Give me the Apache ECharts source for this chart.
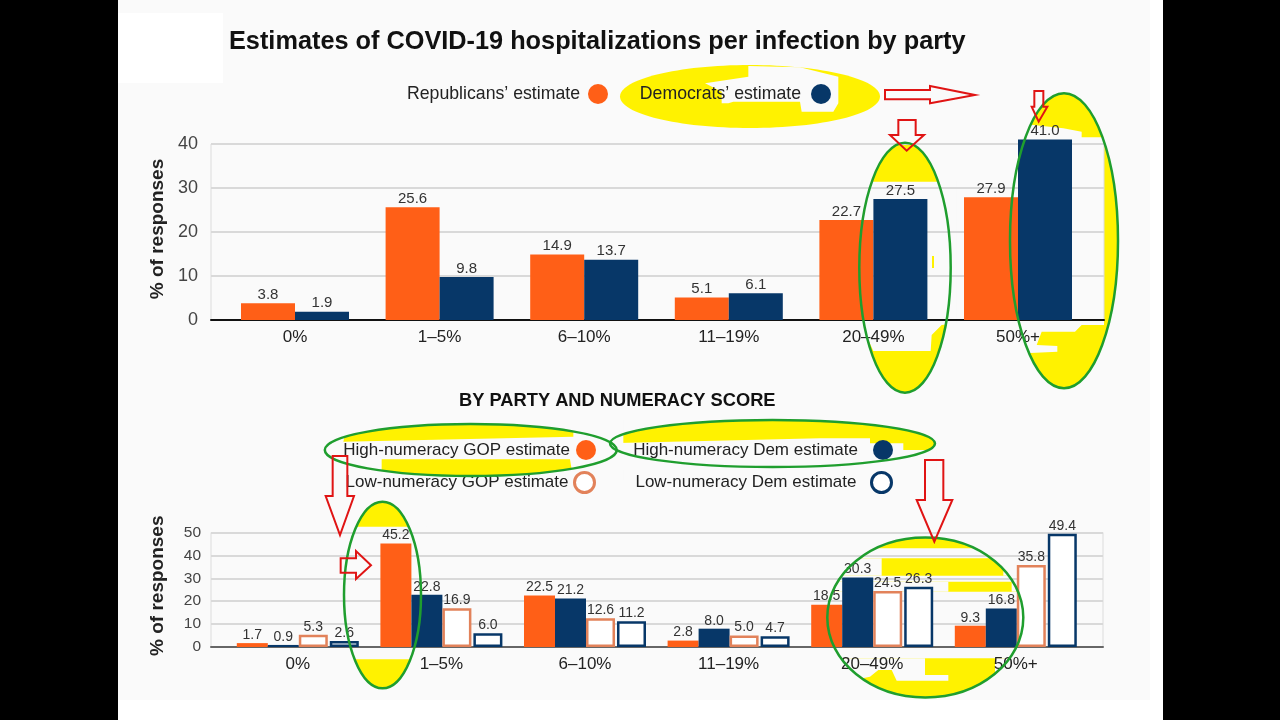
<!DOCTYPE html>
<html>
<head>
<meta charset="utf-8">
<style>html,body{margin:0;padding:0;background:#000}#main{width:1280px;height:720px}</style>
<script src="https://cdn.jsdelivr.net/npm/echarts@6/dist/echarts.min.js"></script>
</head>
<body>
<div id="main"></div>
<script>
const categories = ['0%', '1–5%', '6–10%', '11–19%', '20–49%', '50%+'];
const republicans = [3.8, 25.6, 14.9, 5.1, 22.7, 27.9];
const democrats = [1.9, 9.8, 13.7, 6.1, 27.5, 41.0];
const highGop = [1.7, 45.2, 22.5, 2.8, 18.5, 9.3];
const highDem = [0.9, 22.8, 21.2, 8.0, 30.3, 16.8];
const lowGop = [5.3, 16.9, 12.6, 5.0, 24.5, 35.8];
const lowDem = [2.6, 6.0, 11.2, 4.7, 26.3, 49.4];

const font = '"Liberation Sans"';
const orange = '#ff5f17';
const navy = '#073768';
const paleOrange = '#e2825a';
const panel = '#fafafa';
const yellow = '#fff200';
const green = '#1f9e2e';
const red = '#e01414';

// crop coordinates (3x) back to page pixels
const pts = (ox, oy, list) => list.map(p => [p[0] / 3 + ox, p[1] / 3 + oy]);

const poly = (points, fill, z) => ({ type: 'polygon', silent: true, z, shape: { points }, style: { fill } });
const ellipse = (cx, cy, rx, ry, style, z) => ({ type: 'ellipse', silent: true, z, shape: { cx, cy, rx, ry }, style });
const rect = (x, y, width, height, fill, z) => ({ type: 'rect', silent: true, z, shape: { x, y, width, height }, style: { fill } });
const arrow = points => ({ type: 'polygon', silent: true, z: 30, shape: { points }, style: { fill: 'none', stroke: red, lineWidth: 2 } });
const patch = (ox, oy, list) => poly(pts(ox, oy, list), panel, -7);

const ovals = [
  [750, 96.5, 130, 31.5],
  [905, 267.7, 45.7, 125],
  [1064, 240.7, 54, 147.5],
  [382.5, 595, 38.5, 93.3],
  [470.8, 450, 146, 26],
  [772.5, 443.5, 162.5, 23.5],
  [925.3, 617.5, 98, 80]
];

const graphics = [
  rect(118, 0, 1045, 720, '#fff', -10),
  rect(118, 0, 1032, 700, panel, -10),
  rect(118, 13, 105, 70, '#fff', -9)
];
ovals.forEach((o, i) => {
  graphics.push(ellipse(o[0], o[1], o[2], o[3], { fill: yellow }, -8));
  if (i > 0) graphics.push(ellipse(o[0], o[1], o[2], o[3], { fill: 'none', stroke: green, lineWidth: 2.5 }, 25));
});
graphics.push(
  patch(620, 60, [[385, 18], [540, 22], [655, 50], [655, 130], [640, 155], [545, 155], [540, 125], [340, 125], [325, 130], [305, 130], [305, 95], [255, 70], [385, 50]]),
  patch(620, 60, [[700, 365], [905, 365], [1010, 365], [1010, 790], [965, 795], [935, 825], [932, 873], [760, 873], [745, 840], [700, 840]]),
  patch(620, 60, [[1150, 190], [1240, 195], [1330, 205], [1385, 215], [1385, 232], [1452, 232], [1452, 795], [1385, 795], [1365, 815], [1265, 815], [1250, 855], [1312, 858], [1312, 875], [1215, 880], [1150, 880]]),
  patch(140, 380, [[600, 440], [860, 440], [860, 838], [600, 838]]),
  patch(140, 380, [[540, 120], [625, 120], [610, 185], [1300, 170], [1300, 120], [1450, 120], [1450, 300], [1300, 300], [1290, 238], [725, 238], [725, 300], [540, 300]]),
  patch(620, 410, [[-40, 100], [380, 90], [600, 85], [750, 85], [750, 100], [850, 100], [850, 120], [950, 120], [950, 180], [-40, 180]]),
  patch(620, 410, [[600, 415], [1230, 415], [1230, 445], [600, 445]]),
  patch(620, 410, [[600, 445], [785, 445], [785, 497], [600, 497]]),
  patch(620, 410, [[1150, 445], [1230, 445], [1230, 497], [1150, 497]]),
  patch(620, 410, [[600, 497], [1230, 497], [1230, 515], [600, 515]]),
  patch(620, 410, [[600, 515], [985, 515], [985, 545], [600, 545]]),
  patch(620, 410, [[1175, 515], [1230, 515], [1230, 545], [1175, 545]]),
  patch(620, 410, [[600, 545], [1230, 545], [1230, 745], [600, 745]]),
  patch(620, 410, [[600, 745], [915, 745], [915, 795], [985, 795], [985, 812], [830, 812], [815, 780], [775, 780], [750, 800], [600, 830]]),
  patch(620, 410, [[1125, 745], [1230, 745], [1230, 800], [1125, 800]]),
  rect(932, 256, 2, 12, yellow, 3),
  arrow(pts(620, 60, [[795, 90], [930, 90], [930, 78], [1065, 105], [930, 130], [930, 118], [795, 118]])),
  arrow(pts(620, 60, [[835, 180], [887, 180], [887, 225], [912, 225], [860, 272], [810, 225], [835, 225]])),
  arrow(pts(620, 60, [[1243, 93], [1270, 93], [1270, 140], [1282, 140], [1256, 185], [1235, 140], [1243, 140]])),
  arrow(pts(140, 380, [[578, 228], [622, 228], [622, 348], [642, 348], [600, 465], [557, 348], [578, 348]])),
  arrow(pts(140, 380, [[602, 535], [648, 535], [648, 513], [693, 556], [648, 597], [648, 578], [602, 578]])),
  arrow(pts(620, 410, [[915, 150], [970, 150], [970, 270], [997, 270], [943, 395], [890, 270], [915, 270]]))
);

const oneLegend = (name, right, top, gap, size, ring) => ({
  data: [name],
  right,
  top,
  padding: 0,
  align: 'right',
  icon: 'circle',
  itemWidth: 20,
  itemHeight: 20,
  selectedMode: false,
  z: 6,
  itemStyle: ring ? { borderWidth: 3 } : {},
  textStyle: { fontFamily: font, fontSize: size, color: '#222', padding: [0, gap, 0, 0] }
});

const valueAxis = (gridIndex, max, interval, size, margin, name, pad) => ({
  type: 'value', gridIndex, min: 0, max, interval,
  name, nameLocation: 'middle', nameGap: 44, nameRotate: 90,
  nameTextStyle: { fontFamily: font, fontSize: 19, fontWeight: 'bold', color: '#222', padding: pad },
  axisLine: { show: false },
  axisTick: { show: false },
  axisLabel: { fontFamily: font, fontSize: size, color: '#444', margin, padding: [2, 0, 0, 0] },
  splitLine: { lineStyle: { color: '#d9d9d9', width: 2 } }
});
const hiddenY = (gridIndex, max) => ({ type: 'value', gridIndex, min: 0, max, show: false, splitLine: { show: false } });
const baseline = (gridIndex, color, width) => ({
  type: 'category', gridIndex, data: [''],
  axisLine: { lineStyle: { color, width } }, axisTick: { show: false }, axisLabel: { show: false }
});
const bandAxis = (gridIndex) => ({
  type: 'category', gridIndex, data: categories,
  axisLine: { show: false }, axisTick: { show: false },
  axisLabel: { fontFamily: font, fontSize: 17, color: '#222', margin: 9 }
});

const barLabel = size => ({ show: true, position: 'top', distance: 1, fontFamily: font, fontSize: size, color: '#333', formatter: p => p.value.toFixed(1) });

const topBar = (name, data, color) => ({
  name, type: 'bar', data, xAxisIndex: 1, yAxisIndex: 1, barWidth: 54, barGap: 0, clip: false,
  itemStyle: { color }, label: barLabel(15)
});
const lowBar = (name, data, color, hollow) => ({
  name, type: 'bar', data, xAxisIndex: 3, yAxisIndex: 3, barWidth: hollow ? 29 : 31, barGap: 0, clip: false,
  itemStyle: hollow ? { color: '#fff', borderColor: color, borderWidth: 2.5 } : { color },
  label: barLabel(14)
});

const option = {
  backgroundColor: '#000',
  animation: false,
  title: [
    { text: 'Estimates of COVID-19 hospitalizations per infection by party', left: 229, top: 30, padding: 0,
      textStyle: { fontFamily: font, fontSize: 25.3, fontWeight: 'bold', color: '#111' } },
    { text: 'BY PARTY AND NUMERACY SCORE', left: 459, top: 392, padding: 0,
      textStyle: { fontFamily: font, fontSize: 18.3, fontWeight: 'bold', color: '#111' } }
  ],
  legend: [
    oneLegend('Republicans’ estimate', 672, 84, 3, 17.7),
    oneLegend('Democrats’ estimate', 449, 84, 5, 17.7),
    oneLegend('High-numeracy GOP estimate', 684, 440, 1, 17),
    oneLegend('Low-numeracy GOP estimate', 684, 471, 1, 17, true),
    oneLegend('High-numeracy Dem estimate', 387, 440, 10, 17),
    oneLegend('Low-numeracy Dem estimate', 387, 471, 10, 17, true)
  ],
  grid: [
    { left: 211, width: 893, top: 144, height: 176, show: true, backgroundColor: 'transparent', borderColor: '#dcdcdc', borderWidth: 1 },
    { left: 222.7, width: 867.6, top: 144, height: 176 },
    { left: 211, width: 892, top: 532.5, height: 114.5, show: true, backgroundColor: 'transparent', borderColor: '#dcdcdc', borderWidth: 1 },
    { left: 226, width: 861.6, top: 532.5, height: 114.5 }
  ],
  xAxis: [baseline(0, '#111', 2), bandAxis(1), baseline(2, '#666', 2), bandAxis(3)],
  yAxis: [
    valueAxis(0, 40, 10, 18, 13, '% of responses', [0, 0, 0, 6]),
    hiddenY(1, 40),
    valueAxis(2, 50, 10, 15.5, 10, '% of responses', [0, 0, 0, 8]),
    hiddenY(3, 50)
  ],
  series: [
    topBar('Republicans’ estimate', republicans, orange),
    topBar('Democrats’ estimate', democrats, navy),
    lowBar('High-numeracy GOP estimate', highGop, orange, false),
    lowBar('High-numeracy Dem estimate', highDem, navy, false),
    lowBar('Low-numeracy GOP estimate', lowGop, paleOrange, true),
    // empty spacer, keeps the gap between the two hollow bars
    { name: 'gap', type: 'bar', data: [], xAxisIndex: 3, yAxisIndex: 3, barWidth: 2, barGap: 0, silent: true },
    lowBar('Low-numeracy Dem estimate', lowDem, navy, true)
  ],
  graphic: { elements: graphics }
};

const chart = echarts.init(document.getElementById('main'));
chart.setOption(option);
</script>
</body>
</html>
